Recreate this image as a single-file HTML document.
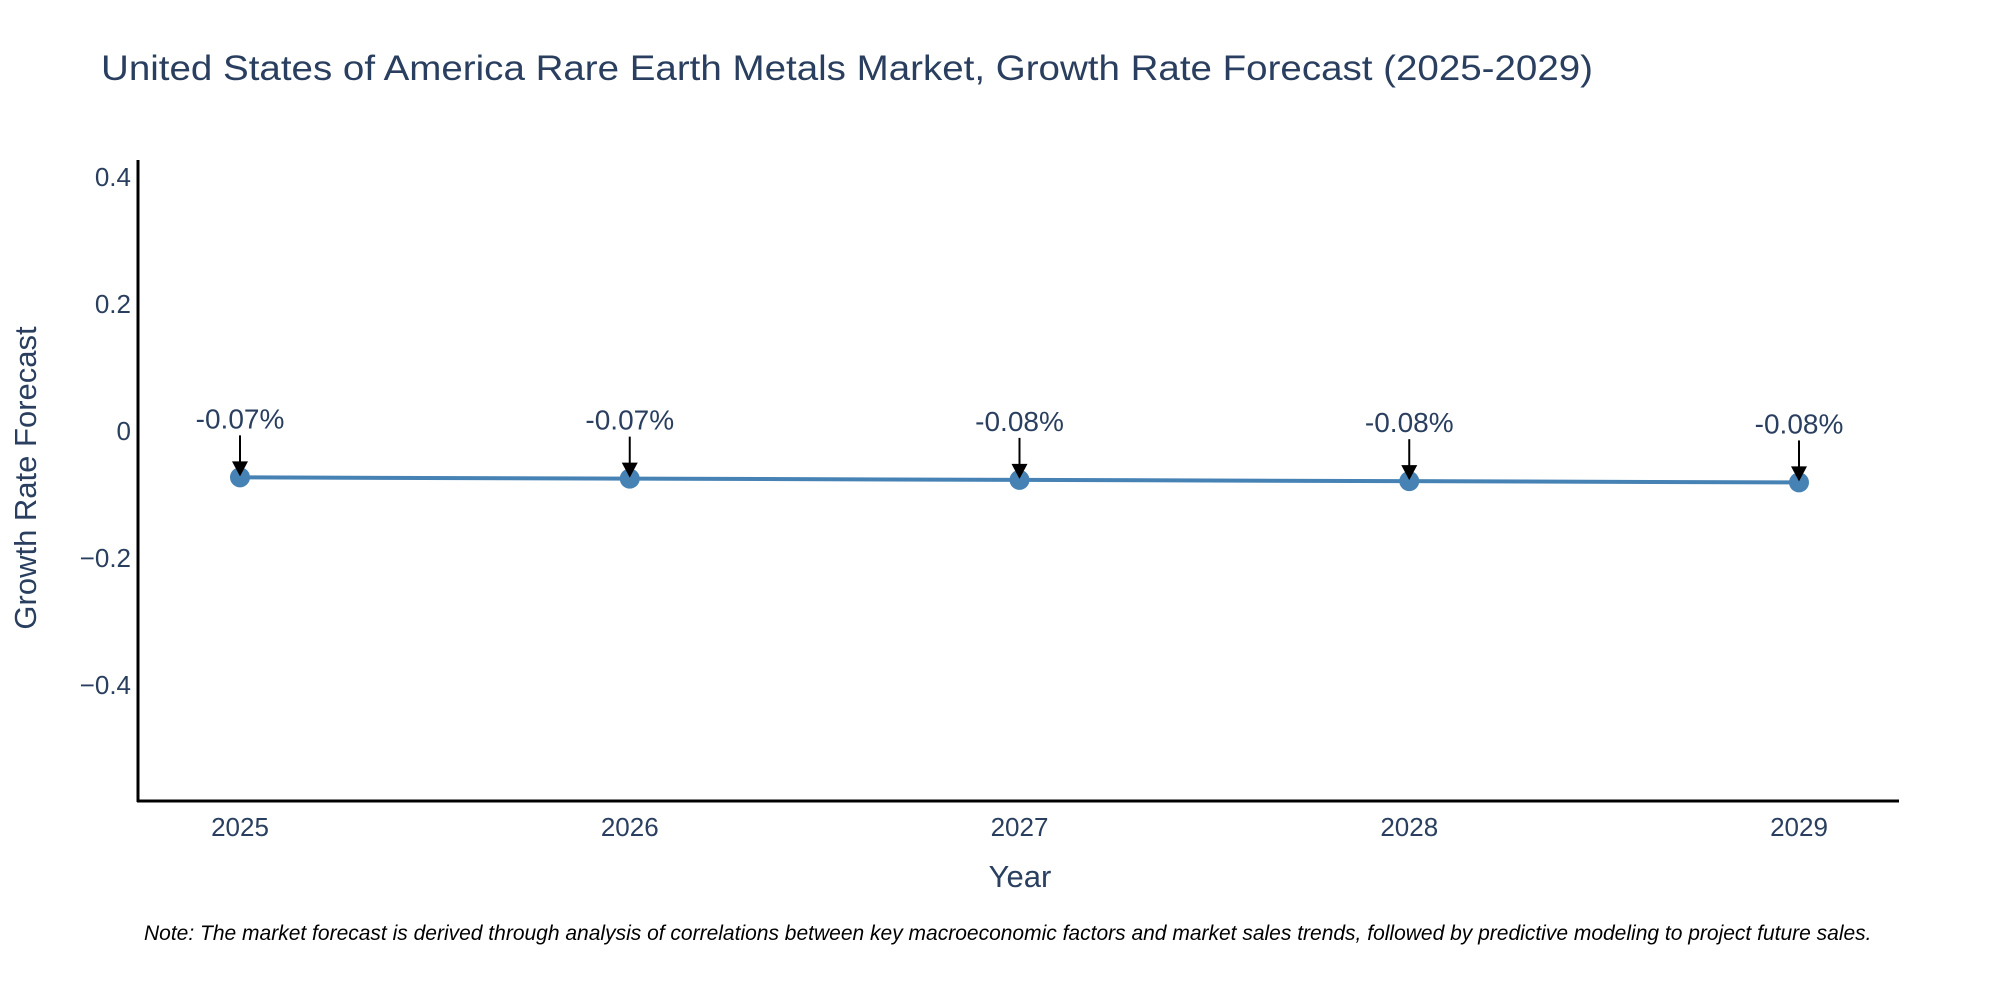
<!DOCTYPE html>
<html><head><meta charset="utf-8"><style>
html,body{margin:0;padding:0;background:#fff;}
svg{display:block;font-family:"Liberation Sans",sans-serif;}
</style></head><body>
<svg id="chart" width="2000" height="1000" viewBox="0 0 2000 1000">
<text x="101" y="80" font-size="35" fill="#2a3f5f" textLength="1492" lengthAdjust="spacingAndGlyphs">United States of America Rare Earth Metals Market, Growth Rate Forecast (2025-2029)</text>
<g id="yticks"></g>
<g id="xticks"></g>
<line x1="138" y1="160" x2="138" y2="802" stroke="#000" stroke-width="3"/>
<line x1="137" y1="801" x2="1899" y2="801" stroke="#000" stroke-width="3"/>
<g id="series"></g>
<g id="annots"></g>
<text transform="translate(36,478) rotate(-90)" text-anchor="middle" font-size="31" fill="#2a3f5f">Growth Rate Forecast</text>
<text x="1020" y="887" text-anchor="middle" font-size="31" fill="#2a3f5f">Year</text>
<text x="144" y="940" font-size="21" font-style="italic" fill="#000">Note: The market forecast is derived through analysis of correlations between key macroeconomic factors and market sales trends, followed by predictive modeling to project future sales.</text>
</svg>
<script>
const years = ["2025","2026","2027","2028","2029"];
const growth = [-0.073, -0.075, -0.077, -0.079, -0.081];
const labels = ["-0.07%","-0.07%","-0.08%","-0.08%","-0.08%"];
const yTickVals = [0.4, 0.2, 0, -0.2, -0.4];
const yTickText = ["0.4","0.2","0","\u22120.2","\u22120.4"];

const NS = "http://www.w3.org/2000/svg";
function xPos(i){ return 240 + i * 389.75; }
function yPos(v){ return 431 - v * 635; }
function mk(tag, attrs, parent){ const e = document.createElementNS(NS, tag); for (const k in attrs) e.setAttribute(k, attrs[k]); parent.appendChild(e); return e; }

const yt = document.getElementById('yticks');
yTickVals.forEach((v, i) => {
  const t = mk('text', {x: 131, y: yPos(v) + 9, 'text-anchor': 'end', 'font-size': 26, fill: '#2a3f5f'}, yt);
  
  
  t.textContent = yTickText[i];
});
const xt = document.getElementById('xticks');
years.forEach((y, i) => {
  const t = mk('text', {x: xPos(i), y: 836, 'text-anchor': 'middle', 'font-size': 26, fill: '#2a3f5f'}, xt);
  
  
  t.textContent = y;
});
const s = document.getElementById('series');
const pts = growth.map((v, i) => xPos(i) + ',' + yPos(v)).join(' ');
const pl = mk('polyline', {points: pts, fill: 'none', stroke: '#4682b4', 'stroke-width': 4}, s);


growth.forEach((v, i) => {
  const c = mk('circle', {cx: xPos(i), cy: yPos(v), r: 10, fill: '#4682b4'}, s);
  
  
});
const a = document.getElementById('annots');
growth.forEach((v, i) => {
  const x = xPos(i), y = yPos(v);
  const t = mk('text', {x: x, y: y - 49, 'text-anchor': 'middle', 'font-size': 28, fill: '#2a3f5f'}, a);
  
  
  t.textContent = labels[i];
  const l = mk('line', {x1: x, y1: y - 42, x2: x, y2: y - 12, stroke: '#000', 'stroke-width': 2}, a);
  
  
  const h = mk('polygon', {points: (x-8)+','+(y-16)+' '+(x+8)+','+(y-16)+' '+x+','+(y-1), fill: '#000'}, a);
  
  
});
</script>
</body></html>
